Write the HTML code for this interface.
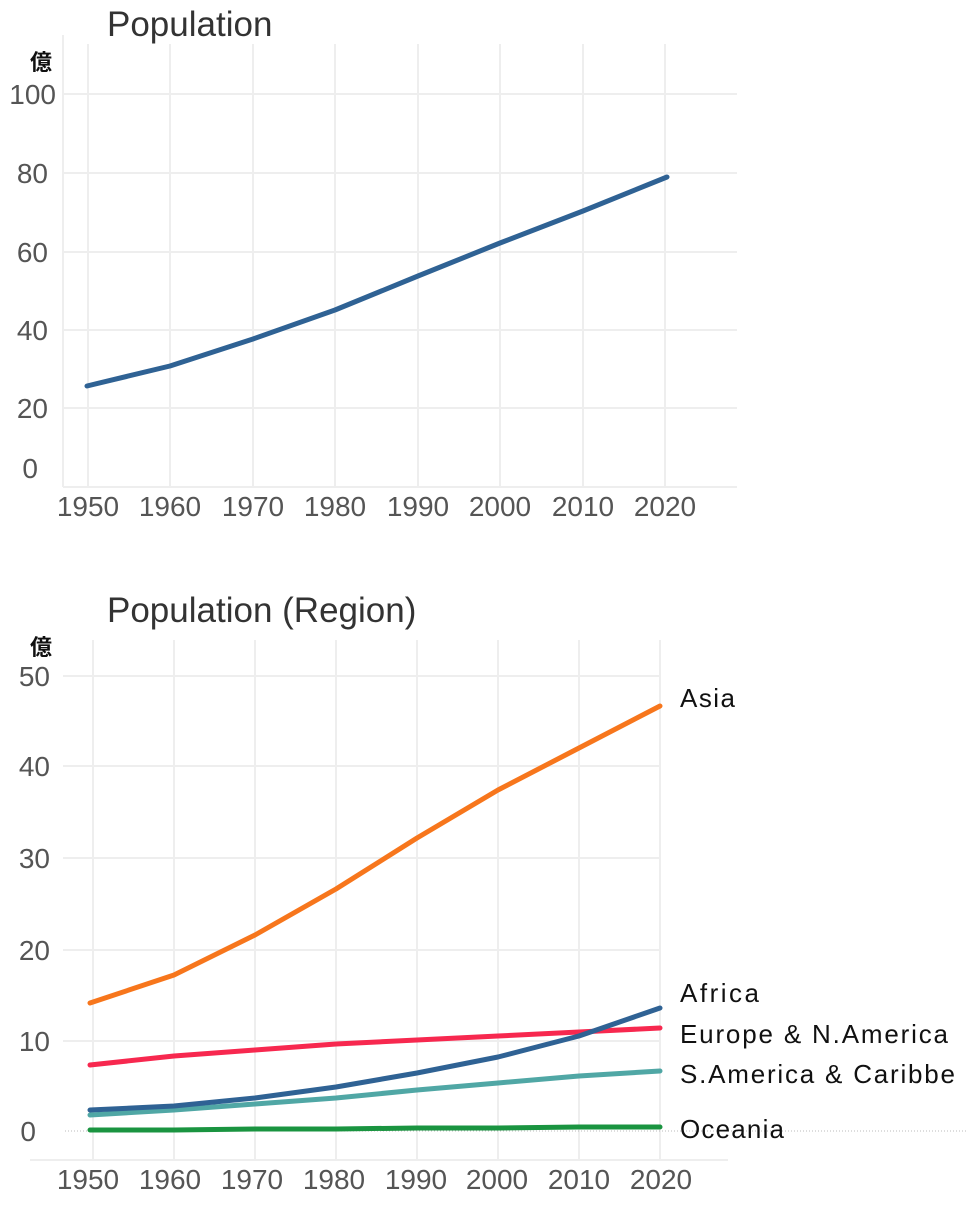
<!DOCTYPE html>
<html><head><meta charset="utf-8"><style>
body{margin:0;background:#fff;}
svg text{font-family:"Liberation Sans","Noto Sans CJK JP",sans-serif;}
</style></head><body>
<svg width="966" height="1202" viewBox="0 0 966 1202" xmlns="http://www.w3.org/2000/svg">
<!-- TOP CHART -->
<text x="107" y="36" font-size="35" fill="#333">Population</text>
<text x="52" y="70" font-size="22" font-weight="bold" text-anchor="end" fill="#111">億</text>
<g stroke="#eeeeee" stroke-width="2">
<line x1="63" y1="35" x2="63" y2="487"/>
<line x1="63" y1="94" x2="737" y2="94"/><line x1="63" y1="173" x2="737" y2="173"/>
<line x1="63" y1="252" x2="737" y2="252"/><line x1="63" y1="330" x2="737" y2="330"/>
<line x1="63" y1="408" x2="737" y2="408"/>
<line x1="88" y1="44" x2="88" y2="487"/><line x1="170" y1="44" x2="170" y2="487"/>
<line x1="253" y1="44" x2="253" y2="487"/><line x1="335" y1="44" x2="335" y2="487"/>
<line x1="418" y1="44" x2="418" y2="487"/><line x1="500" y1="44" x2="500" y2="487"/>
<line x1="583" y1="44" x2="583" y2="487"/><line x1="665" y1="44" x2="665" y2="487"/>
<line x1="63" y1="487" x2="737" y2="487"/>
</g>
<g font-size="28" fill="#555" text-anchor="end">
<text x="56" y="104">100</text><text x="48" y="183">80</text><text x="48" y="262">60</text>
<text x="48" y="340">40</text><text x="48" y="418">20</text><text x="38" y="478">0</text>
</g>
<g font-size="28" fill="#555" text-anchor="middle">
<text x="88" y="516">1950</text><text x="170" y="516">1960</text><text x="253" y="516">1970</text>
<text x="335" y="516">1980</text><text x="418" y="516">1990</text><text x="500" y="516">2000</text>
<text x="583" y="516">2010</text><text x="665" y="516">2020</text>
</g>
<polyline fill="none" stroke="#2f6294" stroke-width="5" stroke-linejoin="round" stroke-linecap="round"
points="87,386 170,366 253,339 335,310 418,276 500,243 583,211 667,177"/>

<!-- BOTTOM CHART -->
<text x="107" y="622" font-size="35" fill="#333">Population (Region)</text>
<text x="52" y="655" font-size="22" font-weight="bold" text-anchor="end" fill="#111">億</text>
<g stroke="#eeeeee" stroke-width="2">
<line x1="93" y1="640" x2="93" y2="1160"/><line x1="174" y1="640" x2="174" y2="1160"/>
<line x1="255" y1="640" x2="255" y2="1160"/><line x1="336" y1="640" x2="336" y2="1160"/>
<line x1="417" y1="640" x2="417" y2="1160"/><line x1="498" y1="640" x2="498" y2="1160"/>
<line x1="579" y1="640" x2="579" y2="1160"/><line x1="660" y1="640" x2="660" y2="1160"/>
<line x1="63" y1="676" x2="660" y2="676"/><line x1="63" y1="766" x2="660" y2="766"/>
<line x1="63" y1="858" x2="660" y2="858"/><line x1="63" y1="950" x2="660" y2="950"/>
<line x1="63" y1="1041" x2="660" y2="1041"/>
<line x1="30" y1="1160" x2="728" y2="1160"/>
</g>
<line x1="65" y1="1131" x2="966" y2="1131" stroke="#bbb" stroke-width="1" stroke-dasharray="1,2"/>
<g font-size="28" fill="#555" text-anchor="end">
<text x="50" y="686">50</text><text x="50" y="776">40</text><text x="50" y="868">30</text>
<text x="50" y="960">20</text><text x="50" y="1051">10</text><text x="36" y="1141">0</text>
</g>
<g font-size="28" fill="#555" text-anchor="middle">
<text x="88" y="1189">1950</text><text x="170" y="1189">1960</text><text x="252" y="1189">1970</text>
<text x="334" y="1189">1980</text><text x="416" y="1189">1990</text><text x="497" y="1189">2000</text>
<text x="579" y="1189">2010</text><text x="661" y="1189">2020</text>
</g>
<g fill="none" stroke-width="5" stroke-linejoin="round" stroke-linecap="round">
<polyline stroke="#f7761c" points="90,1003 174,975 255,935 336,889 417,838 498,790 579,748 660,706"/>
<polyline stroke="#3d9d9b" stroke-opacity="0.9" points="90,1115 174,1110 255,1104 336,1098 417,1090 498,1083 579,1076 660,1071"/>
<polyline stroke="#f7284f" points="90,1065 174,1056 255,1050 336,1044 417,1040 498,1036 579,1032 660,1028"/>
<polyline stroke="#2f6294" points="90,1110 174,1106 255,1098 336,1087 417,1073 498,1057 579,1036 660,1008"/>
<polyline stroke="#1a9440" points="90,1130 174,1130 255,1129 336,1129 417,1128 498,1128 579,1127 660,1127"/>
</g>
<g font-size="26" fill="#111">
<text x="680" y="707" textLength="55">Asia</text>
<text x="680" y="1002" textLength="79">Africa</text>
<text x="680" y="1043" textLength="268">Europe &amp; N.America</text>
<text x="680" y="1083" textLength="275">S.America &amp; Caribbe</text>
<text x="680" y="1138" textLength="104">Oceania</text>
</g>
</svg>
</body></html>
